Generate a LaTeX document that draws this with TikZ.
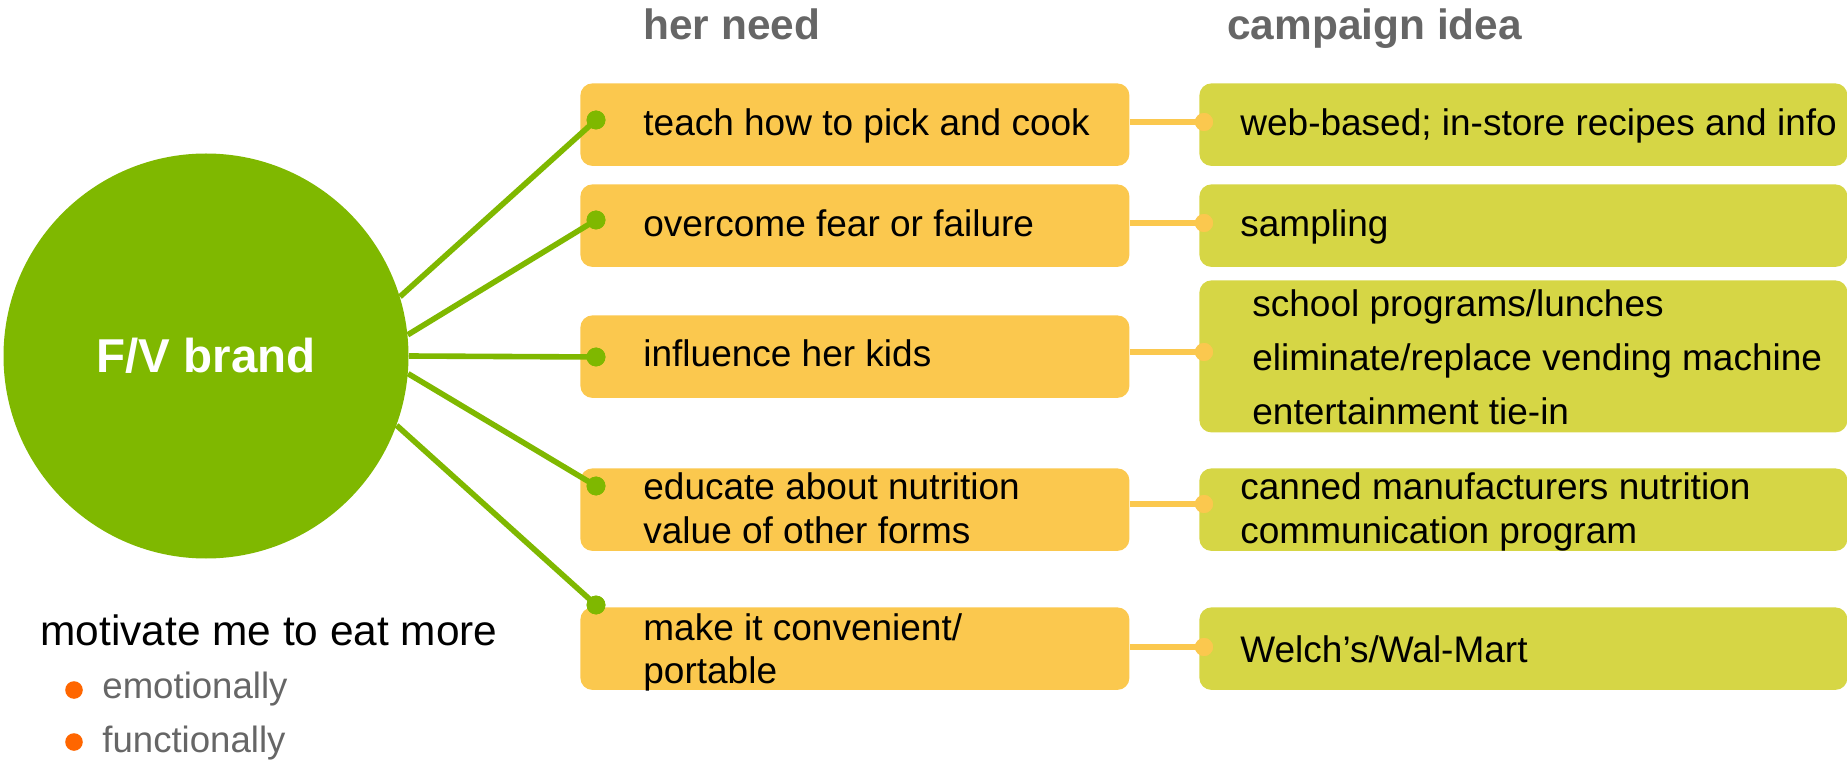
\documentclass[tikz,border=0pt]{standalone}
\usepackage{fontspec}
\setmainfont{Liberation Sans}
\definecolor{brandgreen}{HTML}{7FB800}
\definecolor{needorange}{HTML}{FBC84E}
\definecolor{ideagreen}{HTML}{D6D645}
\definecolor{bulletorange}{HTML}{FF6600}
\definecolor{headgray}{HTML}{666666}
\newcommand{\twolines}[2]{\begin{tabular}[t]{@{}l@{}}#1\\#2\end{tabular}}
\begin{document}
\begin{tikzpicture}[x=0.5pt,y=-0.5pt,
  needbox/.style={fill=needorange, rounded corners=6pt, minimum width=274.5pt,
    minimum height=41.25pt, anchor=north west, inner sep=0pt},
  ideabox/.style={fill=ideagreen, rounded corners=6pt, minimum width=324pt,
    minimum height=41.25pt, anchor=north west, inner sep=0pt},
  boxtext/.style={anchor=base west, inner sep=0pt, font=\fontsize{18.5}{21.5}\selectfont},
  heading/.style={anchor=base west, inner sep=0pt, text=headgray, font=\fontsize{21.2}{25}\selectfont\bfseries},
  gdot/.style={circle, fill=brandgreen, minimum size=9.4pt, inner sep=0pt},
  odot/.style={circle, fill=needorange, minimum size=9pt, inner sep=0pt},
  bdot/.style={circle, fill=bulletorange, minimum size=8.8pt, inner sep=0pt},
  spoke/.style={draw=brandgreen, line width=2.8pt},
  link/.style={draw=needorange, line width=3.4pt},
]
\useasboundingbox (0,0) rectangle (1847,764);

% brand circle
\node[circle, fill=brandgreen, minimum size=202.5pt, inner sep=0pt,
  text=white, font=\fontsize{23.75}{28}\selectfont\bfseries] (brand) at (206,356) {F/V brand};

% column headings
\node[heading] (hneed) at (643,40) {her need};
\node[heading] (hidea) at (1227,40) {campaign idea};

% need boxes
\node[needbox] (n1) at (580,83) {};
\node[needbox] (n2) at (580,184) {};
\node[needbox] (n3) at (580,315) {};
\node[needbox] (n4) at (580,468) {};
\node[needbox] (n5) at (580,607) {};

% campaign boxes
\node[ideabox] (i1) at (1199,83) {};
\node[ideabox] (i2) at (1199,184) {};
\node[ideabox, minimum height=76pt] (i3) at (1199,280) {};
\node[ideabox] (i4) at (1199,468) {};
\node[ideabox] (i5) at (1199,607) {};

% need texts
\node[boxtext] (tn1) at (643,135.5) {teach how to pick and cook};
\node[boxtext] (tn2) at (643,236.5) {overcome fear or failure};
\node[boxtext] (tn3) at (643,367) {influence her kids};
\node[boxtext] (tn4) at (643,500) {\twolines{educate about nutrition}{value of other forms}};
\node[boxtext] (tn5) at (643,640) {\twolines{make it convenient/}{portable}};

% campaign texts
\node[boxtext] (ti1) at (1240,135.5) {web-based; in-store recipes and info};
\node[boxtext] (ti2) at (1240,236.5) {sampling};
\node[boxtext, font=\fontsize{18.5}{27}\selectfont] (ti3) at (1252,317)
  {\begin{tabular}[t]{@{}l@{}}school programs/lunches\\eliminate/replace vending machine\\entertainment tie-in\end{tabular}};
\node[boxtext] (ti4) at (1240,500) {\twolines{canned manufacturers nutrition}{communication program}};
\node[boxtext] (ti5) at (1240,662) {Welch’s/Wal-Mart};

% dots on the need boxes
\node[gdot] (g1) at (596,120) {};
\node[gdot] (g2) at (596,220) {};
\node[gdot] (g3) at (596,357) {};
\node[gdot] (g4) at (596,486) {};
\node[gdot] (g5) at (596,605) {};

% spokes from the brand circle
\draw[spoke] (brand.17.5) -- (g1.center);
\draw[spoke] (brand.6.8) -- (g2.center);
\draw[spoke] (brand.0) -- (g3.center);
\draw[spoke] (brand.-5.4) -- (g4.center);
\draw[spoke] (brand.-20.6) -- (g5.center);
\foreach \g in {g1,g2,g3,g4,g5} \fill[brandgreen] (\g) circle (4.7pt);

% dots on the campaign boxes and their links
\node[odot] (o1) at (1204,122) {};
\node[odot] (o2) at (1204,223) {};
\node[odot] (o3) at (1204,352) {};
\node[odot] (o4) at (1204,504) {};
\node[odot] (o5) at (1204,647) {};
\draw[link] (n1.east |- o1) -- (o1.center);
\draw[link] (n2.east |- o2) -- (o2.center);
\draw[link] (n3.east |- o3) -- (o3.center);
\draw[link] (n4.east |- o4) -- (o4.center);
\draw[link] (n5.east |- o5) -- (o5.center);
\foreach \o in {o1,o2,o3,o4,o5} \fill[needorange] (\o) circle (4.5pt);

% motivation list
\node[anchor=base west, inner sep=0pt, font=\fontsize{21.2}{25}\selectfont] (mot) at (40,645) {motivate me to eat more};
\node[bdot] (b1) at (74,690) {};
\node[bdot] (b2) at (74,742) {};
\node[anchor=base west, inner sep=0pt, text=headgray, font=\fontsize{18.3}{22}\selectfont] (emo) at (102,698) {emotionally};
\node[anchor=base west, inner sep=0pt, text=headgray, font=\fontsize{18.3}{22}\selectfont] (fun) at (102,752) {functionally};
\end{tikzpicture}
\end{document}
